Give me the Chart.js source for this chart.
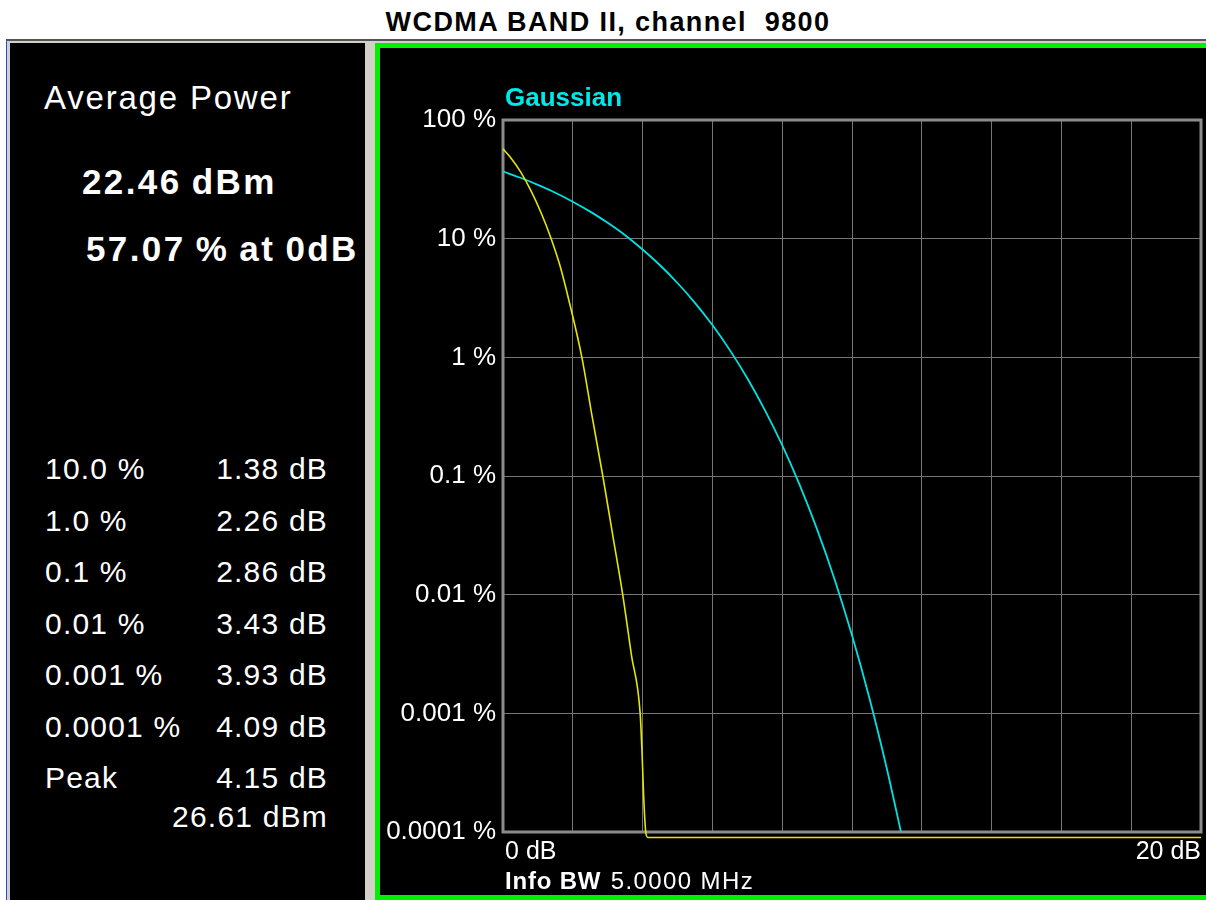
<!DOCTYPE html>
<html>
<head>
<meta charset="utf-8">
<script src="https://cdn.jsdelivr.net/npm/chart.js@4.4.1/dist/chart.umd.min.js"></script>
<style>
  html, body { margin: 0; padding: 0; background: #fff; }
  body { width: 1206px; height: 900px; position: relative; overflow: hidden;
         font-family: 'Liberation Sans', Arial, sans-serif; color: #fff; }
  .abs { position: absolute; white-space: pre; line-height: 1; }
  #title { left: 0; width: 1216px; top: 9px; text-align: center; color: #000;
           font-weight: bold; font-size: 27px; letter-spacing: 1.4px; }
  #frame { left: 6px; top: 39px; width: 1200px; height: 861px; background: #d4d0c8;
           border-top: 2px solid #555; border-left: 1px solid #2050d0; box-sizing: border-box; }
  #left { left: 10px; top: 43px; width: 355px; height: 857px; background: #000; }
  #right { left: 375px; top: 43px; width: 840px; height: 857px; background: #000;
           border: 5px solid #00f000; box-sizing: border-box; }
  #chart { position: absolute; left: 0; top: 0; }
  .big { font-size: 33px; letter-spacing: 1.8px; }
  .val { font-size: 35px; font-weight: bold; letter-spacing: 2.4px; word-spacing: -2px; }
  .row { font-size: 30px; letter-spacing: 1.2px; }
</style>
</head>
<body>
<div id="title" class="abs">WCDMA BAND II, channel  9800</div>
<div id="frame" class="abs"></div>
<div id="left" class="abs"></div>
<div id="right" class="abs"></div>
<div id="stats"></div>
<canvas id="chart" width="1206" height="900"></canvas>
<script>
// Summary readouts
const avgPowerDbm = '22.46 dBm';
const pctAt0dB = '57.07 % at 0dB';
const statLevels = ['10.0 %', '1.0 %', '0.1 %', '0.01 %', '0.001 %', '0.0001 %'];
const statLevelPct = [10, 1, 0.1, 0.01, 0.001, 0.0001];
const statDb = [1.38, 2.26, 2.86, 3.43, 3.93, 4.09];
const peakDb = 4.15;
const peakDbm = '26.61 dBm';

// Measured CCDF trace (dB above average, % of time)
const traceDb  = [0, 0.2, 0.5, 0.8, 1.1, 1.63, 1.91, 2.56, 3.15, 3.68, 3.98, 4.03];
const tracePct = [57.07, 49, 36.7, 25.4, 16.3, 5.96, 2.84, 0.31, 0.031, 0.0031, 0.0005, 0.0002];
const floorPct = 0.00009;

// Gaussian reference trace
const gaussDb  = [0, 0.5, 1, 1.5, 2, 2.5, 3, 3.5, 4, 4.5, 5, 5.5, 6, 6.5, 7, 7.5, 8, 8.5, 9, 9.5, 10, 10.5, 11, 11.4];
const gaussPct = [36.8, 32.6, 28.4, 24.4, 20.5, 16.9, 13.6, 10.7, 8.11, 5.97, 4.23, 2.88, 1.87, 1.15, 0.666,
                  0.361, 0.182, 0.0842, 0.0355, 0.0135, 0.00454, 0.00134, 0.00034, 0.000101];

// Axes
const yTicks = [0.0001, 0.001, 0.01, 0.1, 1, 10, 100];
const yTickLabels = ['0.0001 %', '0.001 %', '0.01 %', '0.1 %', '1 %', '10 %', '100 %'];
const xMin = 0, xMax = 20, xStep = 2;
const xEndLabels = ['0 dB', '20 dB'];

// left panel text
const stats = document.getElementById('stats');
function put(text, cls, left, top, right) {
  const d = document.createElement('div');
  d.className = 'abs ' + cls;
  d.textContent = text;
  if (right !== undefined) { d.style.right = (1206 - right) + 'px'; } else { d.style.left = left + 'px'; }
  d.style.top = top + 'px';
  stats.appendChild(d);
}
put('Average Power', 'big', 44, 81);
put(avgPowerDbm, 'val', 82, 164);
put(pctAt0dB, 'val', 86, 231);
statLevels.forEach((lv, i) => {
  const y = 454 + i * 51.5;
  put(lv, 'row', 45, y);
  put(statDb[i].toFixed(2) + ' dB', 'row', 0, y, 328);
});
put('Peak', 'row', 45, 763);
put(peakDb.toFixed(2) + ' dB', 'row', 0, 763, 328);
put(peakDbm, 'row', 0, 802, 328);

// measured points: read trace + table points + peak + floor
const measured = traceDb.map((x, i) => ({ x, y: tracePct[i] }))
  .concat(statDb.map((x, i) => ({ x, y: statLevelPct[i] })))
  .sort((a, b) => a.x - b.x);
measured.push({ x: peakDb, y: floorPct }, { x: xMax, y: floorPct });

const gauss = gaussDb.map((x, i) => ({ x, y: gaussPct[i] }));

const framePlugin = {
  id: 'frame',
  beforeDatasetsDraw(chart) {
    const { ctx, chartArea: a } = chart;
    ctx.save();
    ctx.strokeStyle = '#8c8c8c';
    ctx.lineWidth = 3;
    ctx.strokeRect(a.left, a.top, a.right - a.left, a.bottom - a.top);
    ctx.restore();
  },
  afterDraw(chart) {
    const { ctx, chartArea: a } = chart;
    ctx.save();
    ctx.textBaseline = 'middle';
    ctx.fillStyle = '#00e8e8';
    ctx.font = "bold 26px 'Liberation Sans', Arial, sans-serif";
    ctx.fillText('Gaussian', a.left + 2, 99);
    ctx.fillStyle = '#fff';
    ctx.letterSpacing = '0.8px';
    ctx.font = "bold 24px 'Liberation Sans', Arial, sans-serif";
    ctx.fillText('Info BW', a.left + 2, 882);
    const w = ctx.measureText('Info BW ').width;
    ctx.font = "24px 'Liberation Sans', Arial, sans-serif";
    ctx.letterSpacing = '1.4px';
    ctx.fillText('5.0000 MHz', a.left + 4 + w, 882);
    ctx.restore();
  }
};

Chart.defaults.font.family = "'Liberation Sans', Arial, sans-serif";

new Chart(document.getElementById('chart').getContext('2d'), {
  type: 'line',
  data: {
    datasets: [{
      label: 'Measured',
      data: measured,
      borderColor: '#e6e600',
      borderWidth: 1.6,
      pointRadius: 0,
      cubicInterpolationMode: 'monotone',
      clip: false
    }, {
      label: 'Gaussian',
      data: gauss,
      borderColor: '#00e2e2',
      borderWidth: 1.8,
      pointRadius: 0,
      cubicInterpolationMode: 'monotone',
      clip: false
    }]
  },
  options: {
    responsive: false,
    animation: false,
    devicePixelRatio: 1,
    layout: { padding: { top: 120, right: 2, left: 0, bottom: 0 } },
    plugins: { legend: { display: false }, tooltip: { enabled: false } },
    scales: {
      x: {
        type: 'linear', min: xMin, max: xMax,
        afterFit: (s) => { s.height = 68; },
        grid: { color: '#767676', lineWidth: 1, drawTicks: false },
        border: { display: false },
        ticks: {
          stepSize: xStep, autoSkip: false, maxRotation: 0, align: 'inner', padding: 5,
          color: '#fff', font: { size: 25 },
          callback: (v) => v === xMin ? '\u200A' + xEndLabels[0] : v === xMax ? xEndLabels[1] : ''
        }
      },
      y: {
        type: 'logarithmic', min: yTicks[0], max: yTicks[yTicks.length - 1],
        afterBuildTicks: (s) => { s.ticks = yTicks.map(v => ({ value: v })); },
        afterFit: (s) => { s.width = 503; },
        grid: { color: '#767676', lineWidth: 1, drawTicks: false },
        border: { display: false },
        ticks: {
          padding: 7, color: '#fff', font: { size: 26 },
          callback: (v, i) => yTickLabels[i]
        }
      }
    }
  },
  plugins: [framePlugin]
});
</script>
</body>
</html>
